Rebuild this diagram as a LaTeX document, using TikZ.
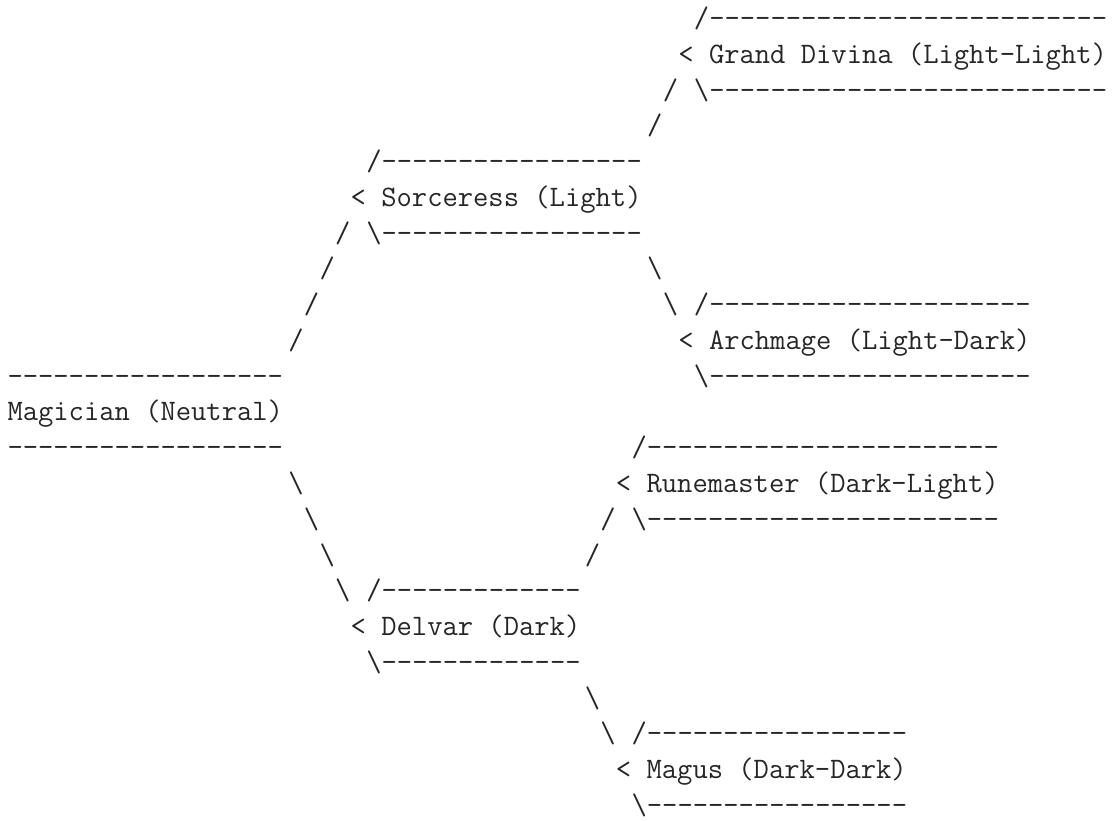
\documentclass[tikz,border=0pt]{standalone}
\usepackage{fontspec}
\ExplSyntaxOn
\cs_new:Npn \D #1 {\prg_replicate:nn{#1}{-}}
\ExplSyntaxOff
\def\cw{15.602}
\def\lh{35.77}
\def\xo{7.5}
\def\yo{27.5}
\newcommand\bs{\textbackslash}
\newcommand\gcell[4]{\node[g] (#1) at ({\xo+#2*\cw},{\yo+#3*\lh}) {#4};}
\tikzset{g/.style={anchor=base west, inner sep=0pt, outer sep=0pt,
  font=\ttfamily\frenchspacing\fontsize{29.72}{34}\selectfont, text=black!85}}
\begin{document}
\begin{tikzpicture}[x=1pt,y=-1pt]
\fill[white] (0,0) rectangle (1114,821);
\useasboundingbox (0,0) rectangle (1114,821);
% Grand Divina
\gcell{gdtop}{44}{0}{/\D{26}}
\gcell{gd}{43}{1}{< Grand Divina (Light-Light)}
\gcell{sgda}{42}{2}{/}
\gcell{gdbot}{44}{2}{\bs\D{26}}
\gcell{sgdb}{41}{3}{/}
% Sorceress
\gcell{sorctop}{23}{4}{/\D{17}}
\gcell{sorc}{22}{5}{< Sorceress (Light)}
\gcell{msa}{21}{6}{/}
\gcell{sorcbot}{23}{6}{\bs\D{17}}
\gcell{msb}{20}{7}{/}
\gcell{saa}{41}{7}{\bs}
\gcell{msc}{19}{8}{/}
\gcell{sab}{42}{8}{\bs}
% Archmage
\gcell{archtop}{44}{8}{/\D{21}}
\gcell{msd}{18}{9}{/}
\gcell{arch}{43}{9}{< Archmage (Light-Dark)}
\gcell{magtop}{0}{10}{\D{18}}
\gcell{archbot}{44}{10}{\bs\D{21}}
% Magician
\gcell{mag}{0}{11}{Magician (Neutral)}
\gcell{magbot}{0}{12}{\D{18}}
% Runemaster
\gcell{runetop}{40}{12}{/\D{23}}
\gcell{mda}{18}{13}{\bs}
\gcell{rune}{39}{13}{< Runemaster (Dark-Light)}
\gcell{mdb}{19}{14}{\bs}
\gcell{dra}{38}{14}{/}
\gcell{runebot}{40}{14}{\bs\D{23}}
\gcell{mdc}{20}{15}{\bs}
\gcell{drb}{37}{15}{/}
% Delvar
\gcell{mdd}{21}{16}{\bs}
\gcell{delvtop}{23}{16}{/\D{13}}
\gcell{delv}{22}{17}{< Delvar (Dark)}
\gcell{delvbot}{23}{18}{\bs\D{13}}
\gcell{dma}{37}{19}{\bs}
% Magus
\gcell{dmb}{38}{20}{\bs}
\gcell{magustop}{40}{20}{/\D{17}}
\gcell{magus}{39}{21}{< Magus (Dark-Dark)}
\gcell{magusbot}{40}{22}{\bs\D{17}}
\end{tikzpicture}
\end{document}
